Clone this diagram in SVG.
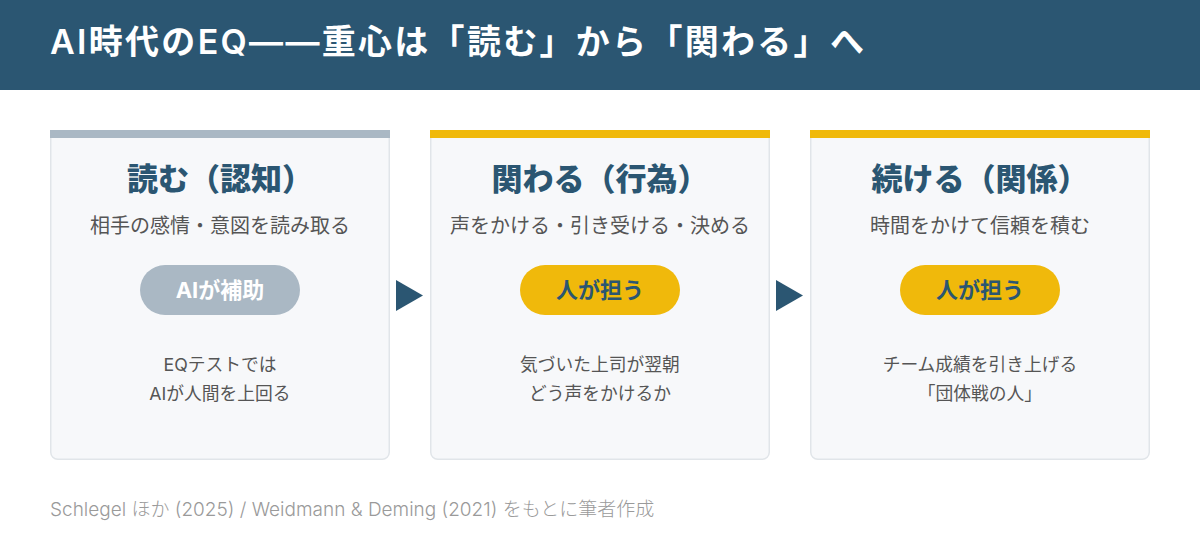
<svg xmlns="http://www.w3.org/2000/svg" width="1200" height="560" viewBox="0 0 1200 560">
<defs>
<style>
.jp{font-family:Inter,"Noto Sans CJK JP","Noto Sans",sans-serif}
.title{font-size:34px;font-weight:600;fill:#ffffff;letter-spacing:2.3px}
.card{fill:#f7f8fa;stroke:#e1e5e9;stroke-width:1.5}
.ctitle{font-size:31px;font-weight:900;fill:#2b5672;text-anchor:middle}
.csub{font-size:20px;fill:#555555;text-anchor:middle}
.pilltxt{font-size:22px;font-weight:700;text-anchor:middle}
.body{font-size:17.75px;fill:#555555;text-anchor:middle}
.foot{font-size:19px;font-weight:300;fill:#9a9a9a}
.arrow{fill:#2b5672}
</style>
</defs>
<rect x="0" y="0" width="1200" height="560" fill="#ffffff"/>
<g id="header">
<rect x="0" y="0" width="1200" height="90" fill="#2b5672"/>
<text class="jp title" x="50" y="54">AI時代のEQ——重心は「読む」から「関わる」へ</text>
</g>
<g id="card-read">
<rect class="card" x="50.75" y="130.75" width="338.5" height="328.5" rx="7"/>
<rect x="50" y="130" width="340" height="8" fill="#aab8c4"/>
<text class="jp ctitle" x="220" y="190">読む（認知）</text>
<text class="jp csub" x="220" y="233">相手の感情・意図を読み取る</text>
<rect x="140" y="265" width="160" height="50" rx="25" fill="#aab8c4"/>
<text class="jp pilltxt" x="220" y="298" fill="#ffffff">AIが補助</text>
<text class="jp body" x="220" y="371">EQテストでは</text>
<text class="jp body" x="220" y="400">AIが人間を上回る</text>
</g>
<g id="card-engage">
<rect class="card" x="430.75" y="130.75" width="338.5" height="328.5" rx="7"/>
<rect x="430" y="130" width="340" height="8" fill="#f0b90b"/>
<text class="jp ctitle" x="600" y="190">関わる（行為）</text>
<text class="jp csub" x="600" y="233">声をかける・引き受ける・決める</text>
<rect x="520" y="265" width="160" height="50" rx="25" fill="#f0b90b"/>
<text class="jp pilltxt" x="600" y="298" fill="#2b5672">人が担う</text>
<text class="jp body" x="600" y="371">気づいた上司が翌朝</text>
<text class="jp body" x="600" y="400">どう声をかけるか</text>
</g>
<g id="card-continue">
<rect class="card" x="810.75" y="130.75" width="338.5" height="328.5" rx="7"/>
<rect x="810" y="130" width="340" height="8" fill="#f0b90b"/>
<text class="jp ctitle" x="980" y="190">続ける（関係）</text>
<text class="jp csub" x="980" y="233">時間をかけて信頼を積む</text>
<rect x="900" y="265" width="160" height="50" rx="25" fill="#f0b90b"/>
<text class="jp pilltxt" x="980" y="298" fill="#2b5672">人が担う</text>
<text class="jp body" x="980" y="371">チーム成績を引き上げる</text>
<text class="jp body" x="980" y="400">「団体戦の人」</text>
</g>
<g id="connectors">
<polygon class="arrow" points="396,280 423,295.5 396,311"/>
<polygon class="arrow" points="776,280 803,295.5 776,311"/>
</g>
<g id="footer">
<text class="jp foot" x="50" y="516">Schlegel ほか (2025) / Weidmann &amp; Deming (2021) をもとに筆者作成</text>
</g>
</svg>
